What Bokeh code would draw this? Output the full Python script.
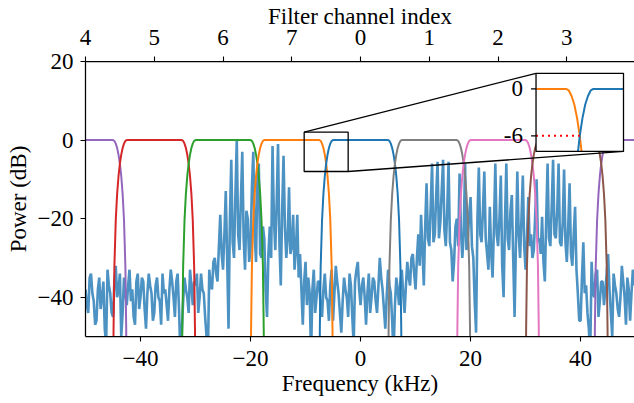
import math
import numpy as np
from bokeh.plotting import figure
from bokeh.models import Range1d, LinearAxis, FixedTicker, CustomJSTickFormatter
from bokeh.embed import file_html
from bokeh.resources import INLINE
from bokeh.core.properties import value

# ---------------- data ----------------
freq_start_khz = -50.0
freq_step_khz = 0.25
spectrum_db = [
    -38, -42, -44, -35, -34, -39, -41, -47, -46, -38,
    -35, -43, -40, -36, -48, -52, -33, -37, -39, -44,
    -45, -36, -32, -40, -38, -34, -50, -44, -35, -39,
    -42, -37, -33, -41, -38, -45, -47, -36, -34, -43,
    -40, -35, -36, -43, -48, -39, -34, -37, -39, -46,
    -44, -37, -35, -40, -41, -47, -34, -39, -38, -42,
    -46, -38, -33, -36, -40, -45, -36, -34, -43, -55,
    -49, -41, -35, -38, -40, -44, -33, -37, -42, -36,
    -37, -34, -44, -40, -34, -38, -39, -45, -50, -55,
    -33, -37, -38, -31, -30, -34, -36, -27, -19, -29,
    -33, -24, -13, -30, -48, -20, -5, -26, -30, -14,
    0, -24, -28, -15, -3, -25, -33, -18, -20, -31,
    -28, -12, -3, -24, -31, -9, -6, -29, -30, -22,
    -25, -38, -45, -29, -22, -30, -1.5, -20, -28, -16,
    -1, -26, -37, -18, -4, -22, -30, -25, -12, -29,
    -27, -19, -33, -28, -19, -35, -29, -38, -47, -36,
    -31, -42, -35, -39, -55, -38, -33, -44, -40, -36,
    -36, -43, -45, -38, -34, -40, -41, -46, -37, -33,
    -46, -39, -32, -36, -39, -44, -49, -41, -35, -38,
    -40, -45, -34, -37, -45, -52, -36, -33, -31, -38,
    -42, -37, -35, -40, -47, -39, -34, -44, -40, -35,
    -36, -41, -44, -37, -30, -35, -38, -43, -48, -40,
    -33, -37, -39, -46, -55, -42, -35, -38, -42, -36,
    -33, -39, -44, -37, -31, -35, -37, -30, -29, -34,
    -38, -30, -24, -32, -19, -28, -37, -22, -11, -25,
    -27, -17, -6, -26, -24, -14, -5.5, -25, -21, -13,
    -5, -23, -27, -18, -5.5, -26, -28, -36, -31, -22,
    -20, -27, -8.5, -23, -30, -24, -6, -28, -25, -19,
    -14.5, -27, -30, -41, -49, -20, -7, -24, -26, -18,
    -8, -25, -29, -33, -17, -29, -35, -22, -6, -24,
    -27, -20, -9, -32, -40, -21, -6, -25, -28, -18,
    -14, -30, -45, -26, -8, -24, -30, -20, -9, -27,
    -33, -25, -14.5, -27, -24, -30, -28, -19, -10, -26,
    -25, -29, -19.5, -31, -36, -20, -6, -25, -27, -17,
    -5, -24, -25, -18, -6, -26, -27, -21, -7.5, -26,
    -31, -22, -11, -29, -32, -24, -17, -33, -39, -46,
    -46, -35, -26, -39, -37, -44, -48, -55, -31, -39,
    -40, -34, -33, -45, -41, -36, -36, -42, -38, -34,
    -29, -38, -44, -50, -34, -37, -39, -43, -45, -40,
    -32, -36, -40, -47, -35, -38, -46, -39, -33, -37,
]
freq_khz = freq_start_khz + freq_step_khz * np.arange(len(spectrum_db))

sample_rate_khz = 100.0
channel_centers_khz = [-50.0, -37.5, -25.0, -12.5, 0.0, 12.5, 25.0, 37.5]
channel_labels = ["4", "5", "6", "7", "0", "1", "2", "3"]
channel_colors = {
    "0": "#1f77b4", "1": "#7f7f7f", "2": "#e377c2", "3": "#8c564b",
    "4": "#9467bd", "5": "#d62728", "6": "#2ca02c", "7": "#ff7f0e",
}

# one side of the (symmetric) filter response: offset from centre (kHz), power (dB)
profile_offset_khz = [5.0, 5.25, 5.5, 5.75, 6.0, 6.25, 6.41, 6.5, 6.75, 7.0, 7.25, 7.4, 7.45, 7.5]
profile_db = [0.0, -0.2, -0.9, -2.0, -3.7, -6.0, -8.0, -9.2, -13.7, -20.4, -32.2, -48.0, -60.0, -150.0]

x_ticks = [-40, -20, 0, 20, 40]
y_ticks = [-40, -20, 0, 20]

zoom_x = (-10.25, -2.25)
zoom_y = (-8.0, 2.0)
inset_channels = ["7", "0"]
inset_ticks = [0, -6]
inset_tick_labels = ["0", "-6"]
crossover_khz = -6.25
crossover_db = -6.0

# ---------------- layout / style ----------------
FONT = "Liberation Serif"
FS = "23px"
X_LIM = (-50.0, 49.8)
Y_LIM = (-50.0, 20.0)
INSET_X = (31.9, 47.8)     # inset box in main data coordinates
INSET_Y = (-2.9, 17.0)
FRAME_W = 549

p = figure(width=634, height=403, x_range=Range1d(*X_LIM), y_range=Range1d(*Y_LIM),
           output_backend="svg", toolbar_location=None,
           min_border_left=85, min_border_right=0, min_border_top=61, min_border_bottom=67)
p.outline_line_color = None
p.xgrid.visible = False
p.ygrid.visible = False
p.background_fill_color = "white"

minus_fmt = CustomJSTickFormatter(code="return tick < 0 ? '\\u2212' + Math.abs(tick) : String(tick);")


def style_axis(ax):
    ax.axis_line_width = 1.25
    ax.axis_line_color = "black"
    ax.major_tick_line_color = "black"
    ax.major_tick_line_width = 1.1
    ax.major_tick_out = 5
    ax.major_tick_in = 0
    ax.minor_tick_line_color = None
    ax.major_label_text_font = FONT
    ax.major_label_text_font_size = FS
    ax.major_label_text_color = "black"
    ax.axis_label_text_font = FONT
    ax.axis_label_text_font_size = FS
    ax.axis_label_text_font_style = "normal"
    ax.axis_label_text_color = "black"


xa = p.xaxis[0]
xa.ticker = FixedTicker(ticks=x_ticks)
xa.formatter = minus_fmt
xa.axis_label = "Frequency (kHz)"
style_axis(xa)
xa.major_label_standoff = 9
xa.axis_label_standoff = 2

ya = p.yaxis[0]
ya.ticker = FixedTicker(ticks=y_ticks)
ya.formatter = minus_fmt
ya.axis_label = "Power (dB)"
style_axis(ya)
ya.major_label_standoff = 7
ya.axis_label_standoff = 4

top = LinearAxis(ticker=FixedTicker(ticks=channel_centers_khz),
                 axis_label="Filter channel index")
top.major_label_overrides = {c: l for c, l in zip(channel_centers_khz, channel_labels)}
style_axis(top)
top.major_label_standoff = 12
top.axis_label_standoff = -2
p.add_layout(top, "above")

# spectrum
p.line(freq_khz, spectrum_db, line_width=2.6, line_color="#1f77b4", line_alpha=0.8)


def filter_curve(center):
    xs = [center - o for o in reversed(profile_offset_khz)] + [center + o for o in profile_offset_khz]
    ys = list(reversed(profile_db)) + list(profile_db)
    return xs, ys


# filter responses (periodic with the sample rate)
for c, lab in zip(channel_centers_khz, channel_labels):
    for shift in (-sample_rate_khz, 0.0, sample_rate_khz):
        cc = c + shift
        if cc + profile_offset_khz[-1] < X_LIM[0] or cc - profile_offset_khz[-1] > X_LIM[1] + 1:
            continue
        xs, ys = filter_curve(cc)
        p.line(xs, ys, line_width=2.0, line_color=channel_colors[lab])

# zoom rectangle and connectors
p.quad(left=[zoom_x[0]], right=[zoom_x[1]], bottom=[zoom_y[0]], top=[zoom_y[1]],
       fill_color=None, line_color="black", line_width=1.3)
p.segment(x0=[zoom_x[0], zoom_x[1]], y0=[zoom_y[1], zoom_y[0]],
          x1=[INSET_X[0], INSET_X[1]], y1=[INSET_Y[1], INSET_Y[0]],
          line_color="black", line_width=1.3)

# inset drawn through its own coordinate mapping
sub = p.subplot(x_source=Range1d(*zoom_x), y_source=Range1d(*zoom_y),
                x_target=Range1d(*INSET_X), y_target=Range1d(*INSET_Y))
sub.quad(left=[zoom_x[0]], right=[zoom_x[1]], bottom=[zoom_y[0]], top=[zoom_y[1]],
         fill_color="white", line_color=None)


def clip_polyline(xs, ys, xmin, xmax, ymin, ymax):
    ox, oy = [], []
    for i in range(len(xs) - 1):
        xa_, ya_, xb_, yb_ = xs[i], ys[i], xs[i + 1], ys[i + 1]
        dx, dy = xb_ - xa_, yb_ - ya_
        t0, t1 = 0.0, 1.0
        ok = True
        for pp, qq in ((-dx, xa_ - xmin), (dx, xmax - xa_), (-dy, ya_ - ymin), (dy, ymax - ya_)):
            if pp == 0:
                if qq < 0:
                    ok = False
                    break
            else:
                r = qq / pp
                if pp < 0:
                    t0 = max(t0, r)
                else:
                    t1 = min(t1, r)
        if not ok or t0 > t1:
            if ox and not math.isnan(ox[-1]):
                ox.append(float("nan")); oy.append(float("nan"))
            continue
        p0 = (xa_ + t0 * dx, ya_ + t0 * dy)
        p1 = (xa_ + t1 * dx, ya_ + t1 * dy)
        if not ox or math.isnan(ox[-1]) or (ox[-1], oy[-1]) != p0:
            ox.append(p0[0]); oy.append(p0[1])
        ox.append(p1[0]); oy.append(p1[1])
    return ox, oy


for lab in inset_channels:
    c = channel_centers_khz[channel_labels.index(lab)]
    xs, ys = filter_curve(c)
    cx, cy = clip_polyline(xs, ys, zoom_x[0], zoom_x[1], zoom_y[0], zoom_y[1])
    sub.line(cx, cy, line_width=2.0, line_color=channel_colors[lab])

sub.line([zoom_x[0], crossover_khz], [crossover_db, crossover_db],
         line_color="#ff0000", line_width=2.0, line_dash="2 4")

sub.quad(left=[zoom_x[0]], right=[zoom_x[1]], bottom=[zoom_y[0]], top=[zoom_y[1]],
         fill_color=None, line_color="black", line_width=1.3)

tick_len = 5.0 * (zoom_x[1] - zoom_x[0]) / ((INSET_X[1] - INSET_X[0]) * FRAME_W / (X_LIM[1] - X_LIM[0]))
sub.segment(x0=[zoom_x[0]] * len(inset_ticks), y0=inset_ticks,
            x1=[zoom_x[0] - tick_len] * len(inset_ticks), y1=inset_ticks,
            line_color="black", line_width=1.1)
sub.text(x=[zoom_x[0]] * len(inset_ticks), y=inset_ticks, text=inset_tick_labels,
         x_offset=-13, text_align="right", text_baseline="middle",
         text_font=value(FONT), text_font_size=FS, text_color="black")

open("out.html", "w").write(file_html(p, INLINE))
